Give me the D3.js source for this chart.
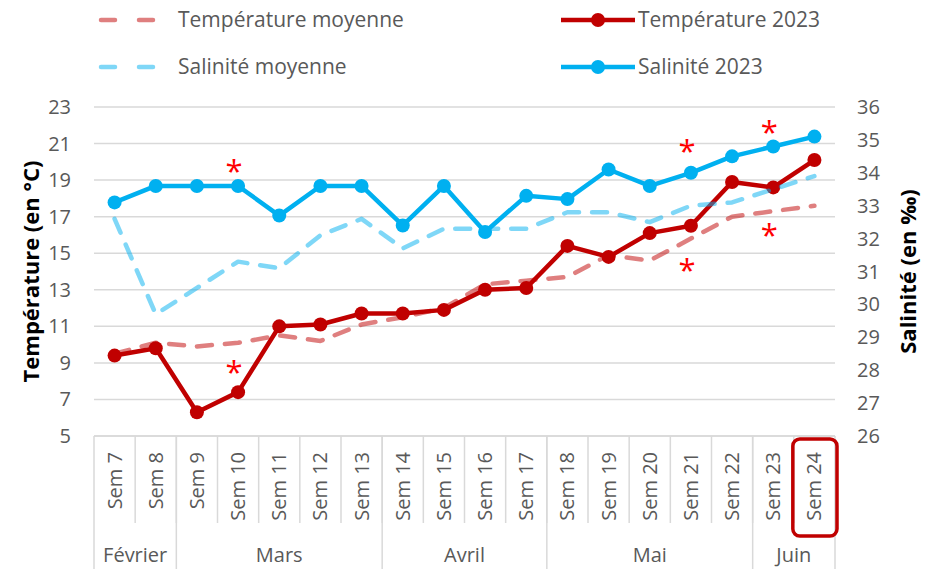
<!DOCTYPE html>
<html>
<head>
<meta charset="utf-8">
<script src="https://cdn.jsdelivr.net/npm/d3@7"></script>
<style>
  body { margin: 0; background: #fff; }
  svg { font-family: "Open Sans", sans-serif; }
  .tick-label { fill: #595959; font-size: 20px; }
  .axis-title { fill: #000; font-size: 22px; font-weight: bold; }
  .legend-label { fill: #595959; font-size: 21px; }
</style>
</head>
<body>
<svg id="chart" width="926" height="569"></svg>
<script>
const weeks = ['Sem 7', 'Sem 8', 'Sem 9', 'Sem 10', 'Sem 11', 'Sem 12', 'Sem 13', 'Sem 14', 'Sem 15',
  'Sem 16', 'Sem 17', 'Sem 18', 'Sem 19', 'Sem 20', 'Sem 21', 'Sem 22', 'Sem 23', 'Sem 24'];
const months = ['Février', 'Mars', 'Avril', 'Mai', 'Juin'];
const monthWeeks = [2, 5, 4, 5, 2];

const tempMoyenne = [9.5, 10.1, 9.9, 10.1, 10.5, 10.2, 11.1, 11.5, 12.0, 13.3, 13.5, 13.7, 14.9, 14.6, 15.8, 17.0, 17.3, 17.6];
const temp2023 = [9.4, 9.8, 6.3, 7.4, 11.0, 11.1, 11.7, 11.7, 11.9, 13.0, 13.1, 15.4, 14.8, 16.1, 16.5, 18.9, 18.6, 20.1];
const salMoyenne = [32.6, 29.7, 30.5, 31.3, 31.1, 32.1, 32.6, 31.7, 32.3, 32.3, 32.3, 32.8, 32.8, 32.5, 33.0, 33.1, 33.5, 33.9];
const sal2023 = [33.1, 33.6, 33.6, 33.6, 32.7, 33.6, 33.6, 32.4, 33.6, 32.2, 33.3, 33.2, 34.1, 33.6, 34.0, 34.5, 34.8, 35.1];

const tempTicks = [5, 7, 9, 11, 13, 15, 17, 19, 21, 23];
const salTicks = [26, 27, 28, 29, 30, 31, 32, 33, 34, 35, 36];

// significance stars: week, which axis, value on that axis
const stars = [
  { week: 'Sem 10', axis: 'sal', value: 34.3 },
  { week: 'Sem 10', axis: 'temp', value: 8.95 },
  { week: 'Sem 21', axis: 'sal', value: 34.9 },
  { week: 'Sem 21', axis: 'temp', value: 14.55 },
  { week: 'Sem 23', axis: 'sal', value: 35.5 },
  { week: 'Sem 23', axis: 'temp', value: 16.45 },
];
const highlightWeek = 'Sem 24';

const red = '#c00000';
const blue = '#00b0f0';
const grid = '#d9d9d9';

const svg = d3.select('#chart');
const plot = { left: 94, right: 835, top: 107, bottom: 436 };

const x = d3.scaleBand().domain(weeks).range([plot.left, plot.right]).padding(0);
const cx = w => x(w) + x.bandwidth() / 2;
const yT = d3.scaleLinear().domain([5, 23]).range([plot.bottom, plot.top]);
const yS = d3.scaleLinear().domain([26, 36]).range([plot.bottom, plot.top]);

// gridlines
svg.append('g').selectAll('line')
  .data(tempTicks)
  .join('line')
  .attr('x1', plot.left).attr('x2', plot.right)
  .attr('y1', d => yT(d)).attr('y2', d => yT(d))
  .attr('stroke', grid).attr('stroke-width', 1.5);

// tick labels
svg.append('g').selectAll('text')
  .data(tempTicks)
  .join('text')
  .attr('class', 'tick-label')
  .attr('x', 71).attr('y', d => yT(d))
  .attr('dy', '0.35em')
  .attr('text-anchor', 'end')
  .text(d => d);

svg.append('g').selectAll('text')
  .data(salTicks)
  .join('text')
  .attr('class', 'tick-label')
  .attr('x', 857).attr('y', d => yS(d))
  .attr('dy', '0.35em')
  .text(d => d);

// axis titles
svg.append('text')
  .attr('class', 'axis-title')
  .attr('transform', `translate(31,${(plot.top + plot.bottom) / 2}) rotate(-90)`)
  .attr('text-anchor', 'middle')
  .attr('dy', '0.35em')
  .text('Température (en °C)');

svg.append('text')
  .attr('class', 'axis-title')
  .attr('transform', `translate(908,${(plot.top + plot.bottom) / 2}) rotate(-90)`)
  .attr('text-anchor', 'middle')
  .attr('dy', '0.35em')
  .text('Salinité (en ‰)');

// category axis: week boxes and month groups
const xAxis = svg.append('g');
const weekBottom = 523;
xAxis.selectAll('line.week')
  .data(weeks.slice(1))
  .join('line')
  .attr('class', 'week')
  .attr('x1', d => x(d)).attr('x2', d => x(d))
  .attr('y1', plot.bottom).attr('y2', weekBottom)
  .attr('stroke', grid).attr('stroke-width', 1.5);

let idx = 0;
const monthEdges = [plot.left];
monthWeeks.forEach(n => {
  idx += n;
  monthEdges.push(idx < weeks.length ? x(weeks[idx]) : plot.right);
});
xAxis.selectAll('line.month')
  .data(monthEdges)
  .join('line')
  .attr('class', 'month')
  .attr('x1', d => d).attr('x2', d => d)
  .attr('y1', plot.bottom).attr('y2', 569)
  .attr('stroke', grid).attr('stroke-width', 1.5);

xAxis.selectAll('text.month')
  .data(months)
  .join('text')
  .attr('class', 'tick-label month')
  .attr('x', (d, i) => (monthEdges[i] + monthEdges[i + 1]) / 2)
  .attr('y', 562)
  .attr('text-anchor', 'middle')
  .text(d => d);

xAxis.selectAll('text.week')
  .data(weeks)
  .join('text')
  .attr('class', 'tick-label week')
  .attr('transform', d => `translate(${cx(d)},452) rotate(-90)`)
  .attr('text-anchor', 'end')
  .attr('dy', '0.35em')
  .text(d => d);

xAxis.append('line')
  .attr('x1', plot.left).attr('x2', plot.right)
  .attr('y1', plot.bottom).attr('y2', plot.bottom)
  .attr('stroke', grid).attr('stroke-width', 1.5);

// highlight box
svg.append('rect')
  .attr('x', x(highlightWeek) - 1)
  .attr('y', 439)
  .attr('width', x.bandwidth() + 3)
  .attr('height', 97)
  .attr('rx', 7)
  .attr('fill', 'none')
  .attr('stroke', red)
  .attr('stroke-width', 3.5);

// series
const drawLine = (values, y, color, dashed, opacity) => {
  const line = d3.line()
    .x((d, i) => cx(weeks[i]))
    .y(d => y(d));
  svg.append('path')
    .datum(values)
    .attr('d', line)
    .attr('fill', 'none')
    .attr('stroke', color)
    .attr('stroke-opacity', opacity)
    .attr('stroke-width', 4.5)
    .attr('stroke-linecap', dashed ? 'round' : 'butt')
    .attr('stroke-linejoin', 'round')
    .attr('stroke-dasharray', dashed ? '15,13' : null);
  if (!dashed) {
    svg.append('g').selectAll('circle')
      .data(values)
      .join('circle')
      .attr('cx', (d, i) => cx(weeks[i]))
      .attr('cy', d => y(d))
      .attr('r', 7)
      .attr('fill', color);
  }
};

drawLine(tempMoyenne, yT, red, true, 0.5);
drawLine(temp2023, yT, red, false, 1);
drawLine(salMoyenne, yS, blue, true, 0.5);
drawLine(sal2023, yS, blue, false, 1);

// stars
svg.append('g').selectAll('text')
  .data(stars)
  .join('text')
  .attr('x', d => cx(d.week) - 4)
  .attr('y', d => (d.axis === 'sal' ? yS : yT)(d.value))
  .attr('dy', '0.62em')
  .attr('text-anchor', 'middle')
  .attr('fill', '#ff0000')
  .style('font-size', '31px')
  .text('*');

// legend
const legend = [
  { label: 'Température moyenne', color: red, dashed: true, col: 0, row: 0 },
  { label: 'Température 2023', color: red, dashed: false, col: 1, row: 0 },
  { label: 'Salinité moyenne', color: blue, dashed: true, col: 0, row: 1 },
  { label: 'Salinité 2023', color: blue, dashed: false, col: 1, row: 1 },
];
const legendX = [98, 561];
const legendY = [20, 67];
const lg = svg.append('g').selectAll('g')
  .data(legend)
  .join('g')
  .attr('transform', d => `translate(${legendX[d.col]},${legendY[d.row]})`);

lg.append('line')
  .attr('x1', d => d.dashed ? 3 : 0)
  .attr('x2', d => d.dashed ? 59 : 74)
  .attr('stroke', d => d.color)
  .attr('stroke-opacity', d => d.dashed ? 0.5 : 1)
  .attr('stroke-width', 4.5)
  .attr('stroke-linecap', d => d.dashed ? 'round' : 'butt')
  .attr('stroke-dasharray', d => d.dashed ? '14,24' : null);

lg.filter(d => !d.dashed).append('circle')
  .attr('cx', 37).attr('r', 7)
  .attr('fill', d => d.color);

lg.append('text')
  .attr('class', 'legend-label')
  .attr('x', d => d.dashed ? 80 : 77)
  .attr('dy', '0.35em')
  .text(d => d.label);
</script>
</body>
</html>
